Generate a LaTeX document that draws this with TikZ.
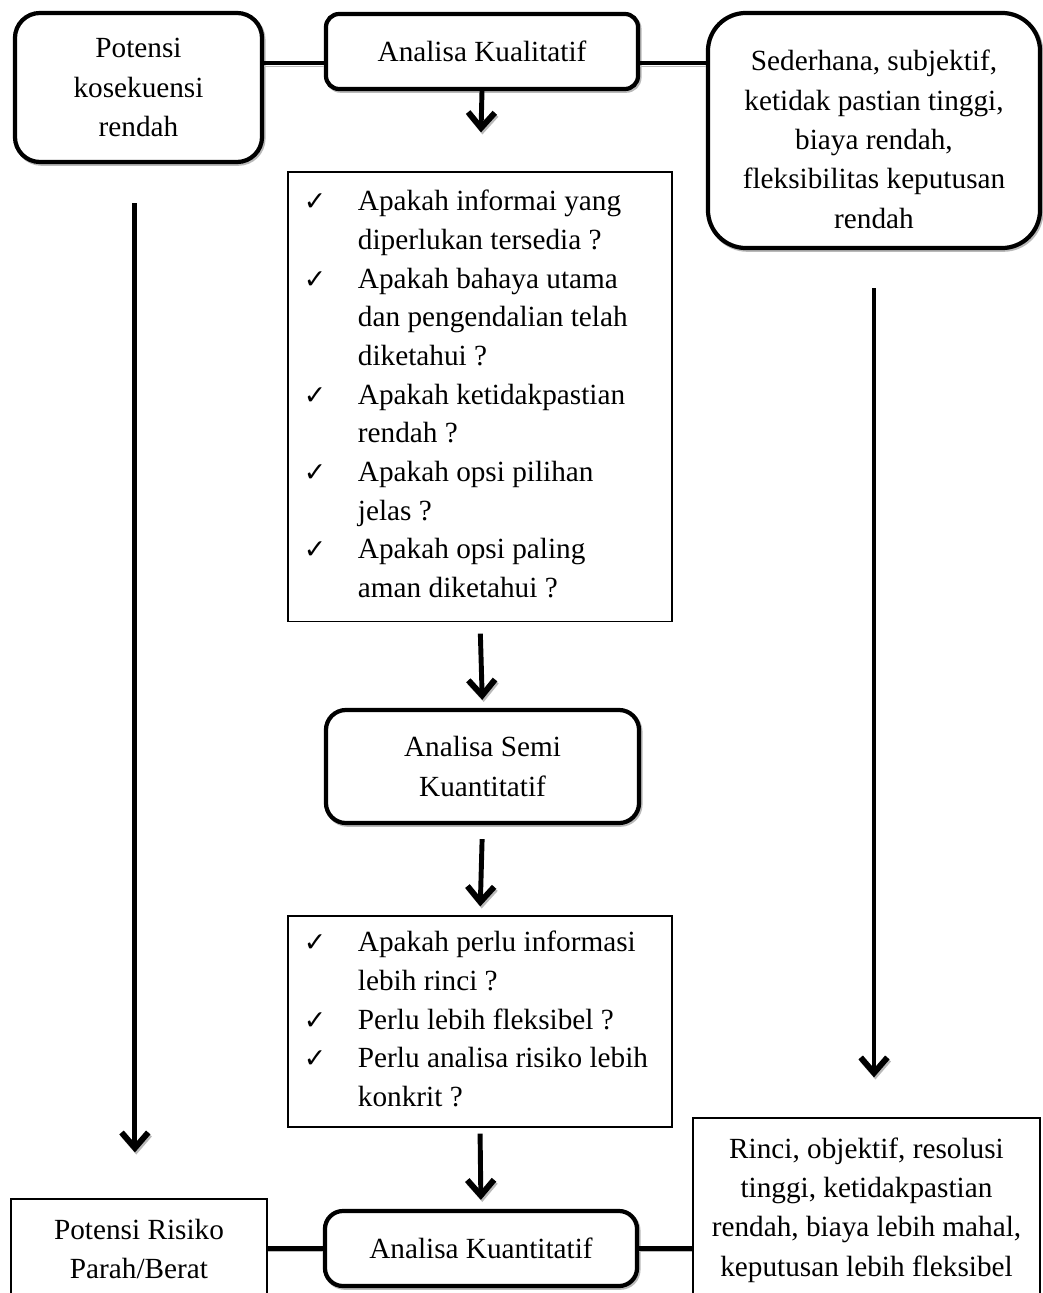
\documentclass[tikz,border=0pt]{standalone}
\usepackage{fontspec}
\setmainfont{Liberation Serif}
\newfontfamily\symfont{DejaVu Sans}
\usetikzlibrary{arrows.meta}
\newcommand{\cek}{{\fontsize{19}{19}\symfont ✓}}
\begin{document}
\begin{tikzpicture}[x=0.025cm, y=-0.025cm,
  every node/.style={font=\fontsize{20.8}{28}\selectfont, inner sep=0pt},
  rbox/.style={draw, fill=white, line width=3pt, rounded corners=#1, align=center,
    preaction={draw=gray!55, transform canvas={xshift=1pt, yshift=-1.2pt}}},
  sbox/.style={draw, line width=0.8pt, align=center},
  link/.style={line width=3.5pt, preaction={draw=gray!55, transform canvas={yshift=-2.2pt}}},
  arr/.style={line width=3.5pt, -{Straight Barb[length=11pt,width=19pt,line width=4.2pt]},
    preaction={draw=gray!55, transform canvas={xshift=1pt, yshift=-1.5pt}}}]

\useasboundingbox (0,0) rectangle (1043,1293);
\clip (0,0) rectangle (1043,1293);

% top row
\node[rbox=0.625cm, minimum width=6.175cm, minimum height=3.725cm] (rendah) at (138.5,87.5) {Potensi\\kosekuensi\\rendah};
\node[rbox=0.33cm, minimum width=7.8cm, minimum height=1.875cm] (kual) at (482,51.5) {Analisa Kualitatif};
\node[rbox=0.95cm, minimum width=8.3cm, minimum height=5.875cm] (sederhana) at (874,130.5) {\raisebox{-8pt}[\height][\depth]{\begin{tabular}{@{}c@{}}
Sederhana, subjektif,\\ketidak pastian tinggi,\\biaya rendah,\\fleksibilitas keputusan\\rendah\end{tabular}}};

% middle column
\node[sbox, minimum width=9.6cm, minimum height=11.225cm] (tanya1) at (480,396.5) {\fontsize{20.8}{27.5}\selectfont
\begin{tabular}{@{\hspace{0.4cm}}p{1.35cm}@{}p{7.85cm}@{}}
\cek & Apakah informai yang\\
     & diperlukan tersedia ?\\
\cek & Apakah bahaya utama\\
     & dan pengendalian telah\\
     & diketahui ?\\
\cek & Apakah ketidakpastian\\
     & rendah ?\\
\cek & Apakah opsi pilihan\\
     & jelas ?\\
\cek & Apakah opsi paling\\
     & aman diketahui ?
\end{tabular}};
\node[rbox=0.5cm, minimum width=7.825cm, minimum height=2.825cm] (semi) at (482.5,766.5) {Analisa Semi\\Kuantitatif};
\node[sbox, minimum width=9.6cm, minimum height=5.275cm] (tanya2) at (480,1021.5) {\fontsize{20.8}{27.5}\selectfont
\begin{tabular}{@{\hspace{0.4cm}}p{1.35cm}@{}p{7.85cm}@{}}
\cek & Apakah perlu informasi\\
     & lebih rinci ?\\
\cek & Perlu lebih fleksibel ?\\
\cek & Perlu analisa risiko lebih\\
     & konkrit ?
\end{tabular}};

% bottom row
\node[rbox=0.45cm, minimum width=7.8cm, minimum height=1.875cm] (kuan) at (481,1248.5) {Analisa Kuantitatif};
\node[sbox, minimum width=6.4cm, minimum height=2.5cm] (parah) at (139,1249) {Potensi Risiko\\Parah/Berat};
\node[sbox, minimum width=8.675cm, minimum height=4.6cm] (rinci) at (866.5,1210) {Rinci, objektif, resolusi\\tinggi, ketidakpastian\\rendah, biaya lebih mahal,\\keputusan lebih fleksibel};

% connectors
\coordinate (atas) at (0,63);
\draw[link] (rendah.east |- atas) -- (kual.west |- atas);
\draw[link] (kual.east |- atas) -- (sederhana.west |- atas);
\draw[link] (parah.east |- kuan.west) -- (kuan.west);
\draw[link] (kuan.east) -- (kuan.east -| rinci.west);

\foreach \a/\b/\s/\e in {kual/tanya1/0pt/0.975cm, tanya1/semi/0.3cm/0.2cm, semi/tanya2/0.35cm/0.225cm, tanya2/kuan/0.15cm/0.225cm}
  {\draw[arr, shorten <=\s, shorten >=\e] (\a.south) -- (\b.north);}
\draw[arr, shorten <=0.975cm, shorten >=1.15cm] ([xshift=-0.09cm]rendah.south) -- ([xshift=-0.09cm]rendah.south |- parah.north);
\draw[arr, shorten <=0.95cm, shorten >=1cm] (sederhana.south) -- (sederhana.south |- rinci.north);

\end{tikzpicture}
\end{document}
